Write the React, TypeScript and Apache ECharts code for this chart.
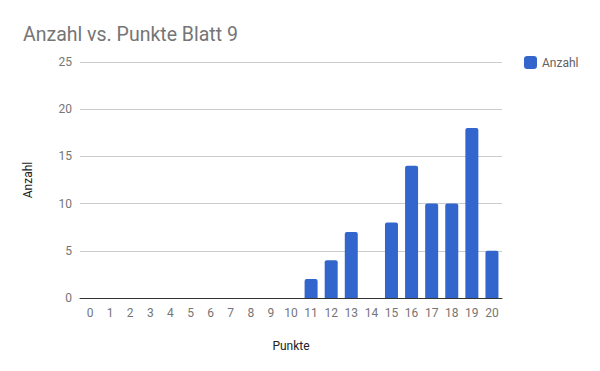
import React, { useEffect, useRef } from "react";
import * as echarts from "echarts";

const categories = ["0","1","2","3","4","5","6","7","8","9","10","11","12","13","14","15","16","17","18","19","20"];
const anzahl = [0,0,0,0,0,0,0,0,0,0,0,2,4,7,0,8,14,10,10,18,5];
const yTicks = { min: 0, max: 25, interval: 5 };

export default function App() {
  const ref = useRef<HTMLDivElement>(null);
  useEffect(() => {
    if (!ref.current) return;
    const chart = echarts.init(ref.current, undefined, { renderer: "svg" });
    chart.setOption({
      animation: false,
      textStyle: { fontFamily: "Roboto" },
      title: {
        text: "Anzahl vs. Punkte Blatt 9",
        left: 18,
        top: 19,
        textStyle: { fontSize: 19.5, fontWeight: "normal", color: "#757575", fontFamily: "Roboto" },
      },
      legend: {
        data: ["Anzahl"],
        orient: "vertical",
        left: 519,
        top: 51,
        itemWidth: 13,
        itemHeight: 13,
        itemGap: 8,
        icon: "roundRect",
        textStyle: { fontSize: 12, color: "#616161", fontFamily: "Roboto" },
      },
      grid: { left: 80, right: 98, top: 62, bottom: 73, containLabel: false },
      xAxis: {
        type: "category",
        data: categories,
        name: "Punkte",
        nameLocation: "middle",
        nameGap: 42,
        nameTextStyle: { fontSize: 12, color: "#222", fontFamily: "Roboto" },
        axisLine: { lineStyle: { color: "#333", width: 1 } },
        axisTick: { show: false },
        axisLabel: { color: "#757575", fontSize: 12, margin: 9, interval: 0, fontFamily: "Roboto" },
      },
      yAxis: {
        type: "value",
        min: yTicks.min,
        max: yTicks.max,
        interval: yTicks.interval,
        name: "Anzahl",
        nameLocation: "middle",
        nameGap: 46,
        nameTextStyle: { fontSize: 12, color: "#222", fontFamily: "Roboto" },
        axisLine: { show: false },
        axisTick: { show: false },
        axisLabel: { color: "#757575", fontSize: 12, margin: 8, fontFamily: "Roboto" },
        splitLine: { lineStyle: { color: "#cccccc", width: 1 } },
      },
      series: [
        {
          name: "Anzahl",
          type: "bar",
          data: anzahl,
          barWidth: 13,
          itemStyle: { color: "#3366cc", borderRadius: [2, 2, 0, 0] },
        },
      ],
    });
    return () => chart.dispose();
  }, []);
  return <div ref={ref} style={{ width: 600, height: 371, margin: -8 }} />;
}
